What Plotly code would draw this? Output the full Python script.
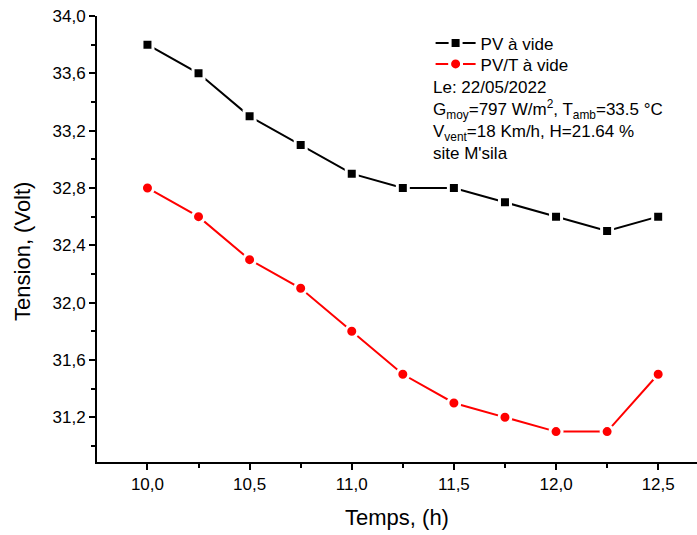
import plotly.graph_objects as go

temps = [10.0, 10.25, 10.5, 10.75, 11.0, 11.25, 11.5, 11.75, 12.0, 12.25, 12.5]
pv_vide = [33.8, 33.6, 33.3, 33.1, 32.9, 32.8, 32.8, 32.7, 32.6, 32.5, 32.6]
pvt_vide = [32.8, 32.6, 32.3, 32.1, 31.8, 31.5, 31.3, 31.2, 31.1, 31.1, 31.5]

y_ticks = [31.2, 31.6, 32.0, 32.4, 32.8, 33.2, 33.6, 34.0]
y_labels = ["31,2", "31,6", "32,0", "32,4", "32,8", "33,2", "33,6", "34,0"]
x_ticks = [10.0, 10.5, 11.0, 11.5, 12.0, 12.5]
x_labels = ["10,0", "10,5", "11,0", "11,5", "12,0", "12,5"]

info_lines = [
    "Le: 22/05/2022",
    "G<sub>moy</sub>=797 W/m<sup>2</sup>, T<sub>amb</sub>=33.5 °C",
    "V<sub>vent</sub>=18 Km/h, H=21.64 %",
    "site M'sila",
]

FONT = "Liberation Sans, Arial, sans-serif"

fig = go.Figure()
fig.add_trace(go.Scatter(
    x=temps, y=pv_vide, mode="lines+markers", name="PV à vide", legend="legend",
    line=dict(color="black", width=2),
    marker=dict(symbol="square", size=11, color="black", line=dict(color="white", width=3)),
))
fig.add_trace(go.Scatter(
    x=temps, y=pvt_vide, mode="lines+markers", name="PV/T à vide", legend="legend2",
    line=dict(color="#ff0000", width=2),
    marker=dict(symbol="circle", size=12, color="#ff0000", line=dict(color="white", width=3)),
))

annotations = [
    dict(
        xref="paper", yref="paper", x=0.557, y=0.838,
        xanchor="left", yanchor="top", align="left", text="<br>".join(info_lines),
        showarrow=False, font=dict(family=FONT, size=17, color="black"),
        yshift=12,
    ),
    dict(
        xref="paper", yref="paper", x=-0.1233, y=0.471,
        xanchor="center", yanchor="middle", text="Tension, (Volt)", textangle=-90,
        showarrow=False, font=dict(family=FONT, size=22, color="black"),
    ),
]

leg_common = dict(
    xanchor="left", yanchor="top", bgcolor="rgba(0,0,0,0)",
    font=dict(family=FONT, size=17, color="black"), itemwidth=40, borderwidth=0,
)

fig.update_layout(
    width=697, height=535,
    margin=dict(l=97, r=0, t=16, b=73),
    paper_bgcolor="white", plot_bgcolor="white",
    font=dict(family=FONT, size=17, color="black"),
    showlegend=True,
    legend=dict(x=0.556, y=0.979, **leg_common),
    legend2=dict(x=0.556, y=0.932, **leg_common),
    annotations=annotations,
    xaxis=dict(
        range=[9.753, 12.69], showline=True, linecolor="black", linewidth=2,
        showgrid=False, zeroline=False, mirror=False,
        tickmode="array", tickvals=x_ticks, ticktext=x_labels,
        ticks="outside", ticklen=6, tickwidth=1.5, tickcolor="black",
        minor=dict(tickvals=[10.25, 10.75, 11.25, 11.75, 12.25], ticks="outside",
                   ticklen=4, tickwidth=1.5, tickcolor="black", showgrid=False),
        tickfont=dict(family=FONT, size=17),
        title=dict(text="Temps, (h)", font=dict(family=FONT, size=22), standoff=16),
    ),
    yaxis=dict(
        range=[30.888, 34.0], showline=True, linecolor="black", linewidth=2,
        showgrid=False, zeroline=False, mirror=False,
        tickmode="array", tickvals=y_ticks, ticktext=y_labels,
        ticks="outside", ticklen=6, tickwidth=1.5, tickcolor="black",
        minor=dict(tickvals=[31.0, 31.4, 31.8, 32.2, 32.6, 33.0, 33.4, 33.8], ticks="outside",
                   ticklen=4, tickwidth=1.5, tickcolor="black", showgrid=False),
        tickfont=dict(family=FONT, size=17),
    ),
)

fig.write_html("out.html")
